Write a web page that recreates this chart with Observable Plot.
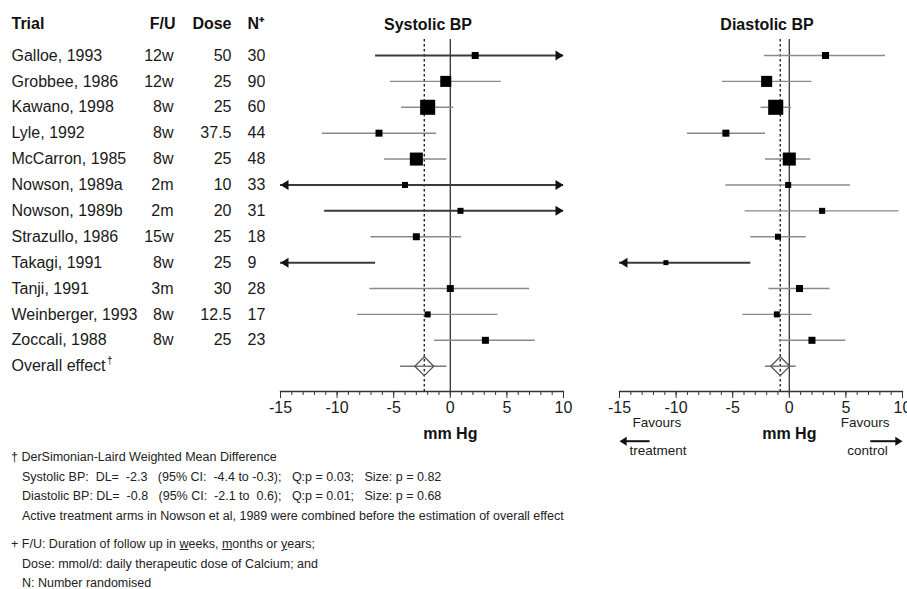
<!DOCTYPE html>
<html>
<head>
<meta charset="utf-8">
<script src="https://cdn.jsdelivr.net/npm/d3@7"></script>
<script src="https://cdn.jsdelivr.net/npm/@observablehq/plot@0.6"></script>
<style>
  body { margin: 0; background: #fff; font-family: "Liberation Sans", Arial, sans-serif; color: #1a1a1a; }
  #wrap { position: relative; width: 907px; height: 589px; overflow: hidden; }
  #row { display: flex; position: absolute; top: 0; left: 0; }
  #notes { position: absolute; top: 448px; left: 11px; font-size: 12.5px; line-height: 19.5px; color: #222; white-space: pre; }
  #notes .ind { padding-left: 11px; }
  #notes .gap { margin-top: 9px; }
</style>
</head>
<body>
<div id="wrap">
  <div id="row"></div>
  <div id="notes"></div>
</div>
<script>
// ---------------- data ----------------
const trials = ["Galloe, 1993", "Grobbee, 1986", "Kawano, 1998", "Lyle, 1992", "McCarron, 1985",
  "Nowson, 1989a", "Nowson, 1989b", "Strazullo, 1986", "Takagi, 1991", "Tanji, 1991",
  "Weinberger, 1993", "Zoccali, 1988"];
const followUp = ["12w", "12w", "8w", "8w", "8w", "2m", "2m", "15w", "8w", "3m", "8w", "8w"];
const dose = ["50", "25", "25", "37.5", "25", "10", "20", "25", "25", "30", "12.5", "25"];
const nRandomised = ["30", "90", "60", "44", "48", "33", "31", "18", "9", "28", "17", "23"];
const overallLabel = "Overall effect";
const overallMark = "\u2020";
const headers = ["Trial", "F/U", "Dose", "N\u207A"];

// Systolic BP: mean difference, 95% CI, weight (%)
const sysMean   = [2.2, -0.4, -2.0, -6.3, -3.0, -4.0, 0.9, -3.0, -17.0, 0.0, -2.0, 3.1];
const sysLow    = [-6.6, -5.3, -4.3, -11.3, -5.8, -18.5, -11.1, -7.0, -27.4, -7.1, -8.2, -1.4];
const sysHigh   = [11.0, 4.5, 0.3, -1.2, -0.3, 10.5, 12.9, 1.0, -6.6, 7.0, 4.2, 7.5];
const sysWeight = [5.5, 13.7, 25.5, 5.5, 19.1, 4.1, 4.1, 5.5, 1.8, 5.5, 4.1, 5.5];
const sysOverall = {mean: -2.3, low: -4.4, high: -0.3};

// Diastolic BP
const diaMean   = [3.2, -2.0, -1.2, -5.6, 0.0, -0.1, 2.9, -1.0, -10.9, 0.9, -1.1, 2.0];
const diaLow    = [-2.2, -5.9, -2.5, -9.0, -2.1, -5.6, -3.9, -3.4, -18.4, -1.8, -4.1, -0.9];
const diaHigh   = [8.5, 2.0, 0.2, -2.1, 1.9, 5.4, 9.7, 1.5, -3.4, 3.6, 2.0, 5.0];
const diaWeight = [5.6, 13.8, 25.6, 5.6, 19.2, 4.1, 4.1, 4.1, 2.8, 5.6, 4.1, 5.6];
const diaOverall = {mean: -0.8, low: -2.1, high: 0.6};

const xDomain = [-15, 10];
const majorTicks = [-15, -10, -5, 0, 5, 10];
const minorTicks = d3.range(-15, 11);

// ---------------- layout ----------------
const H = 460, MT = 39, MB = 69;
const rows = [...trials, overallLabel];
const yScale = {type: "point", domain: rows, range: [55, 365.7], padding: 0, round: false, axis: null};
const font = {fontFamily: "'Liberation Sans', Arial, sans-serif", fontSize: "16px", color: "#1a1a1a", background: "white"};

const triRight = {draw(ctx, size) { const r = Math.sqrt(size / Math.PI); ctx.moveTo(0, 0); ctx.lineTo(-1.6 * r, -r); ctx.lineTo(-1.6 * r, r); ctx.closePath(); }};
const triLeft  = {draw(ctx, size) { const r = Math.sqrt(size / Math.PI); ctx.moveTo(0, 0); ctx.lineTo(1.6 * r, -r); ctx.lineTo(1.6 * r, r); ctx.closePath(); }};
const diamond  = {draw(ctx, size) { const r = Math.sqrt(size / Math.PI); ctx.moveTo(0, -r); ctx.lineTo(r, 0); ctx.lineTo(0, r); ctx.lineTo(-r, 0); ctx.closePath(); }};

// ---------------- table ----------------
const tableRows = trials.map((t, i) => ({trial: t, fu: followUp[i], dose: dose[i], n: nRandomised[i]}));
const colText = (field, dx, anchor) => Plot.text(tableRows, {y: "trial", text: field, frameAnchor: "left", dx, textAnchor: anchor, fontSize: 16, fill: "#1a1a1a"});
const headText = (i, dx, anchor) => Plot.text([headers[i]], {text: d => d, frameAnchor: "top-left", dx, dy: -16, lineAnchor: "middle", textAnchor: anchor, fontWeight: "bold", fontSize: 16, fill: "#111"});

const table = Plot.plot({
  width: 265, height: H, marginTop: MT, marginBottom: MB, marginLeft: 0, marginRight: 0,
  style: font, y: yScale, x: {axis: null},
  marks: [
    headText(0, 11, "start"), headText(1, 175, "end"), headText(2, 231, "end"), headText(3, 247, "start"),
    colText("trial", 11, "start"), colText("fu", 173, "end"), colText("dose", 231, "end"), colText("n", 247, "start"),
    Plot.text([overallLabel], {y: d => d, text: d => d, frameAnchor: "left", dx: 11, textAnchor: "start", fontSize: 16, fill: "#1a1a1a"}),
    Plot.text([overallLabel], {y: d => d, text: () => overallMark, frameAnchor: "left", dx: 106.5, dy: -5, textAnchor: "start", fontSize: 10, fill: "#1a1a1a"})
  ]
});

// ---------------- forest panels ----------------
function panel({title, mean, low, high, weight, overall, width, marginLeft, marginRight, favours}) {
  const d = trials.map((t, i) => ({trial: t, mean: mean[i], low: low[i], high: high[i], weight: weight[i]}));
  const ci = d.map(r => ({...r, lo: Math.max(r.low, xDomain[0]), hi: Math.min(r.high, xDomain[1]), cut: r.low < xDomain[0] || r.high > xDomain[1]}));
  const pts = d.filter(r => r.mean >= xDomain[0] && r.mean <= xDomain[1]);
  const leftHeads = d.filter(r => r.low < xDomain[0]);
  const rightHeads = d.filter(r => r.high > xDomain[1]);
  const marks = [
    Plot.ruleX([0], {stroke: "#333", strokeWidth: 1.3}),
    Plot.ruleX([overall.mean], {stroke: "#111", strokeWidth: 1.3, strokeDasharray: "2.5,2.5"}),
    Plot.ruleY(ci, {y: "trial", x1: "lo", x2: "hi", stroke: r => r.cut ? "#3a3a3a" : "#8a8a8a", strokeWidth: r => r.cut ? 2 : 1.4}),
    Plot.dot(leftHeads, {x: () => xDomain[0], y: "trial", r: 5, symbol: triLeft, fill: "#111", stroke: "none"}),
    Plot.dot(rightHeads, {x: () => xDomain[1], y: "trial", r: 5, symbol: triRight, fill: "#111", stroke: "none"}),
    Plot.dot(pts, {x: "mean", y: "trial", r: "weight", symbol: "square", fill: "#000", stroke: "none"}),
    Plot.ruleY([overall], {y: () => overallLabel, x1: "low", x2: "high", stroke: "#777", strokeWidth: 1.5}),
    Plot.dot([overall], {x: "mean", y: () => overallLabel, r: 9.5, symbol: diamond, fill: "none", stroke: "#555", strokeWidth: 1.3}),
    Plot.frame({anchor: "bottom", stroke: "#333", strokeWidth: 1.3}),
    Plot.axisX({ticks: minorTicks, tickSize: 4, tickFormat: () => "", label: null, stroke: "#333"}),
    Plot.axisX({ticks: majorTicks, tickSize: 7, tickPadding: 3, tickFormat: d => String(d), label: null, fontSize: 16, fill: "#1a1a1a", stroke: "#333"}),
    Plot.text([0], {x: v => v, text: () => "mm Hg", frameAnchor: "bottom", dy: 42, lineAnchor: "middle", fontWeight: "bold", fontSize: 16, fill: "#111"}),
    Plot.text([title], {text: v => v, frameAnchor: "top", dx: 6, dy: -15, lineAnchor: "middle", fontWeight: "bold", fontSize: 16, fill: "#111"})
  ];
  if (favours) {
    const fy = () => overallLabel;
    marks.push(
      Plot.text(["Favours"], {x: () => -11.7, text: v => v, frameAnchor: "bottom", dy: 31, lineAnchor: "middle", fontSize: 13.5, fill: "#1a1a1a"}),
      Plot.text(["treatment"], {x: () => -11.6, text: v => v, frameAnchor: "bottom", dy: 59, lineAnchor: "middle", fontSize: 13.5, fill: "#1a1a1a"}),
      Plot.ruleY([0], {y: fy, x1: () => -12.3, x2: () => -14.6, dy: 75, stroke: "#111", strokeWidth: 2}),
      Plot.dot([0], {x: () => xDomain[0], y: fy, dy: 75, r: 4.5, symbol: triLeft, fill: "#111", stroke: "none"}),
      Plot.text(["Favours"], {x: () => 6.7, text: v => v, frameAnchor: "bottom", dy: 31, lineAnchor: "middle", fontSize: 13.5, fill: "#1a1a1a"}),
      Plot.text(["control"], {x: () => 6.9, text: v => v, frameAnchor: "bottom", dy: 59, lineAnchor: "middle", fontSize: 13.5, fill: "#1a1a1a"}),
      Plot.ruleY([0], {y: fy, x1: () => 7.2, x2: () => 9.6, dy: 75, stroke: "#111", strokeWidth: 2}),
      Plot.dot([0], {x: () => xDomain[1], y: fy, dy: 75, r: 4.5, symbol: triRight, fill: "#111", stroke: "none"})
    );
  }
  return Plot.plot({
    width, height: H, marginTop: MT, marginBottom: MB, marginLeft, marginRight,
    style: font,
    x: {domain: xDomain},
    y: yScale,
    r: {type: "sqrt", domain: [0, 25.6], range: [0, 8.5]},
    marks
  });
}

const sys = panel({title: "Systolic BP", mean: sysMean, low: sysLow, high: sysHigh, weight: sysWeight, overall: sysOverall, width: 325, marginLeft: 15, marginRight: 27, favours: false});
const dia = panel({title: "Diastolic BP", mean: diaMean, low: diaLow, high: diaHigh, weight: diaWeight, overall: diaOverall, width: 317, marginLeft: 29, marginRight: 5, favours: true});

const row = document.getElementById("row");
row.append(table, sys, dia);

// ---------------- footnotes ----------------
const notes = [
  {cls: "", html: "\u2020 DerSimonian-Laird Weighted Mean Difference"},
  {cls: "ind", html: "Systolic BP:  DL=  -2.3   (95% CI:  -4.4 to -0.3);   Q:p = 0.03;   Size: p = 0.82"},
  {cls: "ind", html: "Diastolic BP: DL=  -0.8   (95% CI:  -2.1 to  0.6);   Q:p = 0.01;   Size: p = 0.68"},
  {cls: "ind", html: "Active treatment arms in Nowson et al, 1989 were combined before the estimation of overall effect"},
  {cls: "gap", html: "+ F/U: Duration of follow up in <u>w</u>eeks, <u>m</u>onths or <u>y</u>ears;"},
  {cls: "ind", html: "Dose: mmol/d: daily therapeutic dose of Calcium; and"},
  {cls: "ind", html: "N: Number randomised"}
];
document.getElementById("notes").innerHTML = notes.map(n => `<div class="${n.cls}">${n.html}</div>`).join("");
</script>
</body>
</html>
